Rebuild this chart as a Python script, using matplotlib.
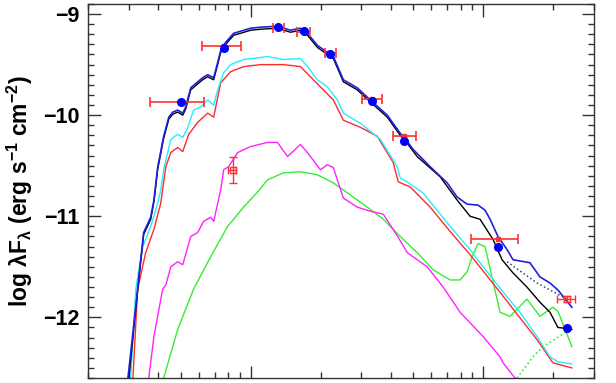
import matplotlib
matplotlib.use("Agg")
import matplotlib.pyplot as plt
from matplotlib.ticker import MultipleLocator, LogLocator, NullFormatter

plt.rcParams['font.family'] = ['Liberation Sans', 'DejaVu Sans']
plt.rcParams['mathtext.default'] = 'regular'

# wavelength in micron, log(lambda F_lambda)
blue_lam = [0.297, 0.321, 0.337, 0.347, 0.372, 0.384, 0.399, 0.423, 0.445, 0.463, 0.486,
            0.511, 0.526, 0.553, 0.593, 0.622, 0.654, 0.694, 0.722, 0.744, 0.781, 0.846,
            0.906, 1.0, 1.104, 1.306, 1.485, 1.639, 1.757, 1.939, 2.140, 2.271, 2.507,
            2.878, 3.274, 3.873, 4.404, 4.721, 5.008, 5.923, 7.010, 7.735, 8.533, 9.517,
            10.20, 10.72, 11.59, 12.68, 13.45, 15.91, 17.56, 19.40, 20.99, 22.95, 24.10]
blue_y = [-12.60, -11.89, -11.43, -11.16, -11.01, -10.84, -10.51, -10.21, -10.02, -9.97, -9.95,
          -9.98, -9.92, -9.73, -9.67, -9.63, -9.60, -9.63, -9.48, -9.36, -9.28, -9.19,
          -9.17, -9.14, -9.13, -9.12, -9.16, -9.14, -9.19, -9.31, -9.38, -9.42, -9.65,
          -9.73, -9.85, -10.00, -10.18, -10.26, -10.34, -10.51, -10.67, -10.81, -10.88, -10.89,
          -10.94, -11.03, -11.20, -11.33, -11.43, -11.46, -11.60, -11.66, -11.73, -11.84, -11.90]

black_lam = [0.300, 0.321, 0.337, 0.347, 0.372, 0.384, 0.399, 0.423, 0.445, 0.463, 0.486,
             0.511, 0.526, 0.553, 0.593, 0.622, 0.654, 0.694, 0.722, 0.744, 0.781, 0.846,
             0.906, 1.0, 1.104, 1.306, 1.485, 1.639, 1.757, 1.939, 2.140, 2.271, 2.507,
             2.878, 3.274, 3.873, 4.404, 4.721, 5.210, 6.538, 7.735, 8.795, 9.708, 11.04,
             12.07, 13.45, 15.44, 17.56, 19.40, 20.99, 22.95, 24.10]
black_y = [-12.60, -11.91, -11.45, -11.18, -11.03, -10.86, -10.53, -10.23, -10.04, -9.99, -9.97,
           -10.00, -9.94, -9.75, -9.69, -9.65, -9.62, -9.65, -9.50, -9.38, -9.30, -9.21,
           -9.19, -9.16, -9.15, -9.14, -9.18, -9.16, -9.21, -9.33, -9.40, -9.44, -9.67,
           -9.75, -9.87, -10.02, -10.20, -10.28, -10.41, -10.61, -10.84, -11.00, -11.03, -11.23,
           -11.43, -11.56, -11.70, -11.85, -11.95, -12.10, -12.11, -12.12]

dot_lam = [12.68, 17.06, 22.95]
dot_y = [-11.45, -11.66, -11.82]

cyan_lam = [0.305, 0.321, 0.344, 0.372, 0.399, 0.411, 0.423, 0.454, 0.486, 0.511, 0.537,
            0.569, 0.610, 0.654, 0.694, 0.722, 0.766, 0.821, 0.933, 1.104, 1.183, 1.386,
            1.639, 1.757, 1.939, 2.140, 2.362, 2.507, 2.966, 3.614, 4.275, 4.404, 4.721,
            5.525, 7.217, 8.795, 10.0, 12.19, 14.41, 17.06, 19.40, 20.99, 24.10]
cyan_y = [-12.60, -11.72, -11.30, -11.10, -10.87, -10.74, -10.54, -10.24, -10.19, -10.22, -10.12,
          -9.95, -9.92, -9.85, -9.90, -9.75, -9.58, -9.50, -9.45, -9.43, -9.42, -9.45,
          -9.44, -9.52, -9.65, -9.72, -9.85, -9.98, -10.08, -10.24, -10.51, -10.62, -10.66,
          -10.77, -11.10, -11.33, -11.50, -11.75, -11.95, -12.19, -12.39, -12.44, -12.46]

red_lam = [0.312, 0.327, 0.354, 0.384, 0.411, 0.432, 0.454, 0.486, 0.511, 0.542, 0.593,
           0.654, 0.694, 0.744, 0.821, 0.933, 1.104, 1.386, 1.639, 1.809, 1.997, 2.271,
           2.507, 2.966, 3.51, 4.11, 4.32, 4.861, 5.923, 7.217, 8.795, 12.19, 17.06,
           19.97, 24.10]
red_y = [-12.60, -11.72, -11.36, -11.13, -10.87, -10.51, -10.37, -10.32, -10.36, -10.19, -10.07,
         -9.98, -10.02, -9.68, -9.57, -9.52, -9.50, -9.50, -9.52, -9.62, -9.72, -9.85,
         -10.05, -10.12, -10.21, -10.47, -10.66, -10.71, -10.91, -11.15, -11.38, -11.79, -12.22,
         -12.45, -12.50]

mag_lam = [0.365, 0.384, 0.419, 0.432, 0.454, 0.486, 0.511, 0.553, 0.593, 0.628, 0.674,
           0.694, 0.744, 0.766, 0.805, 0.880, 1.0, 1.183, 1.306, 1.442, 1.639, 1.757,
           1.997, 2.140, 2.271, 2.507, 2.878, 3.274, 3.724, 4.32, 4.721, 5.750, 6.735,
           7.967, 10.0, 11.83, 12.19, 13.72]
mag_y = [-12.60, -12.19, -11.72, -11.68, -11.50, -11.45, -11.48, -11.20, -11.16, -11.05, -11.01,
         -11.05, -10.74, -10.54, -10.51, -10.37, -10.31, -10.27, -10.27, -10.41, -10.29, -10.37,
         -10.54, -10.49, -10.52, -10.82, -10.91, -10.95, -10.98, -11.21, -11.36, -11.50, -11.70,
         -11.95, -12.19, -12.39, -12.45, -12.60]

green_lam = [0.423, 0.486, 0.569, 0.674, 0.797, 0.933, 1.072, 1.183, 1.386, 1.639, 1.939,
             2.271, 2.687, 3.177, 3.724, 4.404, 5.210, 6.101, 7.217, 7.967, 8.533, 8.973,
             9.517, 10.20, 11.83, 13.06, 15.44, 17.56, 19.97, 20.99, 24.10]
green_y = [-12.60, -12.12, -11.72, -11.40, -11.10, -10.91, -10.76, -10.64, -10.57, -10.56, -10.59,
           -10.67, -10.79, -10.91, -11.03, -11.20, -11.36, -11.53, -11.63, -11.63, -11.55, -11.40,
           -11.27, -11.30, -11.95, -11.99, -11.82, -11.99, -11.90, -11.94, -12.29]

gdot_lam = [13.99, 16.40, 18.1, 22.95]
gdot_y = [-12.60, -12.39, -12.29, -12.14]

# observed photometry (red) and model photometry (blue dots)
obs_lam = [0.50, 0.766, 1.32, 1.70, 2.20, 3.34, 4.58, 11.6]
obs_y = [-9.866, -9.32, -9.14, -9.175, -9.388, -9.84, -10.21, -11.22]
obs_lo = [0.37, 0.616, 1.25, 1.59, 2.10, 3.02, 4.11, 8.9]
obs_hi = [0.63, 0.906, 1.39, 1.81, 2.32, 3.68, 5.16, 14.2]

sq_lam = [0.837, 22.9]
sq_y = [-10.54, -11.82]
sq_lo = [0.797, 20.8]
sq_hi = [0.870, 24.8]
sq_yerr = [0.13, 0.03]

mod_lam = [0.50, 0.766, 1.318, 1.706, 2.205, 3.34, 4.58, 11.59, 22.95]
mod_y = [-9.869, -9.336, -9.128, -9.168, -9.395, -9.856, -10.254, -11.30, -12.11]

fig = plt.figure(figsize=(6.16, 3.83), dpi=100)
ax = fig.add_axes([0.1429, 0.013, 0.8214, 0.9767])

ax.plot(green_lam, green_y, color='#33ee33', lw=1.0)
ax.plot(gdot_lam, gdot_y, color='#33ee33', lw=1.2, ls=':')
ax.plot(mag_lam, mag_y, color='#ff22ff', lw=1.0)
ax.plot(red_lam, red_y, color='#ff2a2a', lw=1.0)
ax.plot(cyan_lam, cyan_y, color='#22eeff', lw=1.0)
ax.plot(black_lam, black_y, color='black', lw=1.0)
ax.plot(blue_lam, blue_y, color='#2020e0', lw=1.2)
ax.plot(dot_lam, dot_y, color='#3a3a9a', lw=1.1, ls=':')

xerr = [[o - l for o, l in zip(obs_lam, obs_lo)], [h - o for o, h in zip(obs_lam, obs_hi)]]
ax.errorbar(obs_lam, obs_y, xerr=xerr, fmt='s', ms=3.5, color='#ff3030', ecolor='#ff3030',
            elinewidth=1.2, capsize=3.5, capthick=1.2, zorder=4)
sxerr = [[o - l for o, l in zip(sq_lam, sq_lo)], [h - o for o, h in zip(sq_lam, sq_hi)]]
ax.errorbar(sq_lam, sq_y, xerr=sxerr, yerr=sq_yerr, fmt='s', ms=4, mfc='none', mec='#ff3030',
            ecolor='#ff3030', elinewidth=1.0, capsize=3, capthick=1.0, zorder=4)
ax.plot(mod_lam, mod_y, 'o', color='#0000ff', ms=5.5, zorder=5)

ax.set_xscale('log')
ax.set_xlim(0.2, 30)
ax.set_ylim(-12.6, -8.9)
ax.yaxis.set_major_locator(MultipleLocator(1))
ax.yaxis.set_minor_locator(MultipleLocator(0.1))
ax.xaxis.set_major_locator(LogLocator(base=10))
ax.xaxis.set_minor_locator(LogLocator(base=10, subs=range(2, 10)))
ax.xaxis.set_major_formatter(NullFormatter())
ax.xaxis.set_minor_formatter(NullFormatter())
ax.tick_params(which='both', direction='in', top=True, right=True, color='#333333', width=1.0)
ax.tick_params(which='major', length=9)
ax.tick_params(which='minor', length=4.5)
ax.tick_params(axis='y', labelsize=15.5, pad=6)
for t in ax.get_yticklabels():
    t.set_fontweight('bold')
for s in ax.spines.values():
    s.set_color('#333333')
    s.set_linewidth(1.0)

ax.set_ylabel(r'log $\lambda$F$_\lambda$ (erg s$^{-1}$ cm$^{-2}$)', fontsize=16.5,
              fontweight='bold', labelpad=6)

fig.savefig('out.png', dpi=100)
